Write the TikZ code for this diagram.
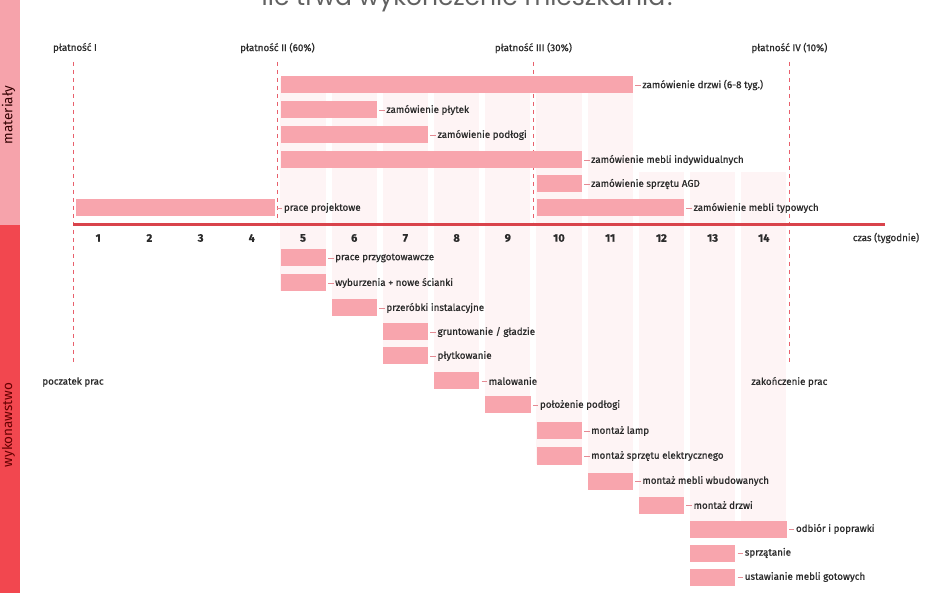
\documentclass[tikz,border=0pt]{standalone}
\usepackage{fontspec}
\setmainfont{Fira Sans}
\newfontfamily\titlefont{Poppins}
\newfontfamily\lblfont[FakeBold=0.8]{Fira Sans}
\definecolor{barpink}{HTML}{F8A5AD}
\definecolor{stripe}{HTML}{FEF4F5}
\definecolor{axisred}{HTML}{D9434B}
\definecolor{bandpink}{HTML}{F6A3AB}
\definecolor{bandred}{HTML}{F2474F}
\definecolor{dashc}{HTML}{E8606C}
\definecolor{txt}{HTML}{2B2B2B}
\definecolor{tickc}{HTML}{E48A93}
\tikzset{
  bar/.style={fill=barpink, draw=none, minimum height=17, inner sep=0},
  lbl/.style={font=\lblfont\fontsize{9.8}{11}\selectfont, text=txt, inner xsep=0, inner ysep=1},
  tickline/.style={draw=tickc, line width=0.8, shorten <=2, shorten >=1.5},
  paydash/.style={draw=dashc, line width=0.8, dash pattern=on 4 off 4},
  paylbl/.style={font=\lblfont\fontsize{9.8}{11}\selectfont, text=txt},
  wknum/.style={font=\lblfont\bfseries\fontsize{11}{13}\selectfont, text=txt},
  bandtxt/.style={font=\fontsize{13.5}{15}\selectfont, rotate=90},
}
\newcommand\gbar[5]{%
  \node[bar, minimum width={51.2*#3-6}, anchor=west] (#1) at ({75.6+51.2*(#2-1)},#4) {};
  \node[lbl, anchor=west] (#1l) at ([xshift=9]#1.east) {#5};
  \draw[tickline] (#1.east) -- (#1l.west);}
\begin{document}
\begin{tikzpicture}[x=1pt,y=-1pt]
\useasboundingbox (0,0) rectangle (948,593);
\clip (0,0) rectangle (948,593);
\fill[white] (0,0) rectangle (948,593);
% title (cut at top, as in the reference)
\node[font=\titlefont\fontsize{25}{30}\selectfont, text=black!62, anchor=base] (title) at (470,6) {ile trwa wykończenie mieszkania?};
% left band
\fill[bandpink] (0,0) rectangle (20,225);
\fill[bandred] (0,225) rectangle (20,593);
\node[bandtxt, text=black!65!red!55!black] (mat) at (8.5,115) {materiały};
\node[bandtxt, text=red!40!black] (wyk) at (8.5,425) {wykonawstwo};
% background week stripes
\foreach \k/\top/\bot in {5/78/291, 6/78/316, 7/78/364, 8/78/389, 9/78/413, 10/78/464, 11/78/489, 12/172/513, 13/172/537, 14/172/537}{
  \fill[stripe] ({75.6+51.2*(\k-1)},\top) rectangle ({75.6+51.2*\k-6},\bot);
}
% payment labels and dashed lines
\node[paylbl] (p1) at (75,48) {płatność I};
\node[paylbl] (p2) at (277.4,48) {płatność II (60\%)};
\node[paylbl] (p3) at (533.4,48) {płatność III (30\%)};
\node[paylbl] (p4) at (789.4,48) {płatność IV (10\%)};
\coordinate (d1) at (73,365);
\coordinate (d2) at (277.4,222);
\coordinate (d3) at (533.4,222);
\coordinate (d4) at (789.4,365);
\draw[paydash] (73,62) -- (d1);
\draw[paydash] (277.4,62) -- (d2);
\draw[paydash] (533.4,62) -- (d3);
\draw[paydash] (789.4,62) -- (d4);
\node[paylbl] (start) at (73,382) {poczatek prac};
\node[paylbl] (end) at (789.4,382) {zakończenie prac};
% materials bars
\gbar{m1}{5}{7}{85}{zamówienie drzwi (6-8 tyg.)}
\gbar{m2}{5}{2}{110}{zamówienie płytek}
\gbar{m3}{5}{3}{135}{zamówienie podłogi}
\gbar{m4}{5}{6}{160}{zamówienie mebli indywidualnych}
\gbar{m5}{10}{1}{184}{zamówienie sprzętu AGD}
\gbar{m6}{10}{3}{208}{zamówienie mebli typowych}
\gbar{m7}{1}{4}{208}{prace projektowe}
% axis
\coordinate (ax0) at (73,225);
\coordinate (ax1) at (885,225);
\draw[axisred, line width=3] (ax0) -- (ax1);
\foreach \k in {1,...,14}{
  \node[wknum] (w\k) at ({47+51.2*\k},238) {\k};
}
\node[paylbl] (czas) at (886,238) {czas (tygodnie)};
% works bars
\gbar{r1}{5}{1}{258}{prace przygotowawcze}
\gbar{r2}{5}{1}{283}{wyburzenia + nowe ścianki}
\gbar{r3}{6}{1}{308}{przeróbki instalacyjne}
\gbar{r4}{7}{1}{332}{gruntowanie / gładzie}
\gbar{r5}{7}{1}{356}{płytkowanie}
\gbar{r6}{8}{1}{381}{malowanie}
\gbar{r7}{9}{1}{405}{położenie podłogi}
\gbar{r8}{10}{1}{431}{montaż lamp}
\gbar{r9}{10}{1}{456}{montaż sprzętu elektrycznego}
\gbar{r10}{11}{1}{481}{montaż mebli wbudowanych}
\gbar{r11}{12}{1}{505}{montaż drzwi}
\gbar{r12}{13}{2}{529}{odbiór i poprawki}
\gbar{r13}{13}{1}{553}{sprzątanie}
\gbar{r14}{13}{1}{577}{ustawianie mebli gotowych}
\end{tikzpicture}
\end{document}
